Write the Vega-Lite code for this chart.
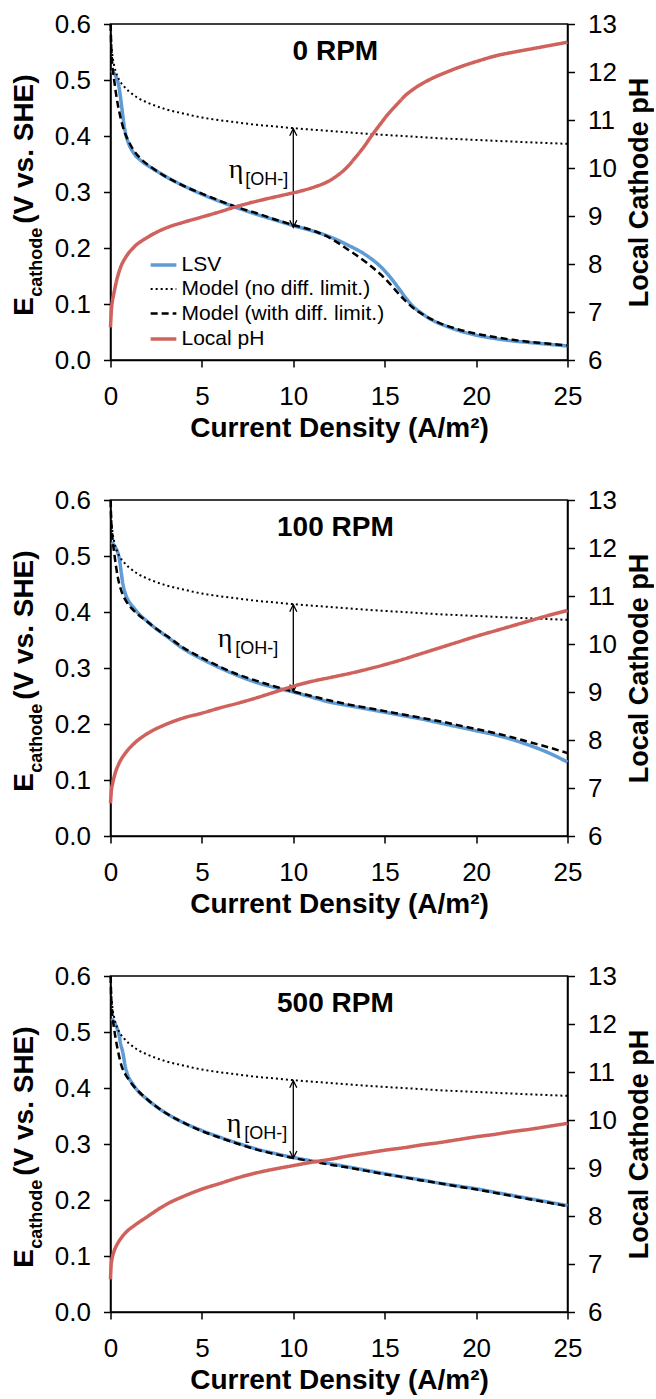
{
  "$schema": "https://vega.github.io/schema/vega-lite/v6.json",
  "background": "white",
  "padding": {"left": 9.5, "top": 10, "right": 0, "bottom": 0},
  "datasets": {
    "arrows": [
      {"rpm": "0 RPM", "current": 10, "top": 0.413, "bottom": 0.237},
      {"rpm": "100 RPM", "current": 10, "top": 0.413, "bottom": 0.258},
      {"rpm": "500 RPM", "current": 10, "top": 0.413, "bottom": 0.275}
    ],
    "rpm0": [
      {"series":"LSV","current":0.05,"value":0.517},{"series":"LSV","current":0.2,"value":0.512},{"series":"LSV","current":0.35,"value":0.502},{"series":"LSV","current":0.45,"value":0.49},{"series":"LSV","current":0.55,"value":0.468},{"series":"LSV","current":0.64,"value":0.445},{"series":"LSV","current":0.73,"value":0.422},{"series":"LSV","current":0.82,"value":0.405},{"series":"LSV","current":1,"value":0.386},{"series":"LSV","current":1.28,"value":0.369},{"series":"LSV","current":1.7,"value":0.355},{"series":"LSV","current":2.2,"value":0.344},{"series":"LSV","current":3,"value":0.328},{"series":"LSV","current":4,"value":0.311},{"series":"LSV","current":5,"value":0.296},{"series":"LSV","current":6,"value":0.283},{"series":"LSV","current":7,"value":0.271},{"series":"LSV","current":8,"value":0.26},{"series":"LSV","current":9,"value":0.25},{"series":"LSV","current":10,"value":0.24},{"series":"LSV","current":11,"value":0.231},{"series":"LSV","current":12,"value":0.22},{"series":"LSV","current":13,"value":0.205},{"series":"LSV","current":13.9,"value":0.189},{"series":"LSV","current":14.8,"value":0.166},{"series":"LSV","current":15.3,"value":0.148},{"series":"LSV","current":15.7,"value":0.131},{"series":"LSV","current":16.2,"value":0.109},{"series":"LSV","current":16.6,"value":0.094},{"series":"LSV","current":17,"value":0.084},{"series":"LSV","current":17.5,"value":0.073},{"series":"LSV","current":18.4,"value":0.06},{"series":"LSV","current":19.3,"value":0.05},{"series":"LSV","current":20.2,"value":0.043},{"series":"LSV","current":21.1,"value":0.038},{"series":"LSV","current":22,"value":0.034},{"series":"LSV","current":23,"value":0.031},{"series":"LSV","current":24,"value":0.028},{"series":"LSV","current":25,"value":0.025},
      {"series":"Model (no diff. limit.)","current":0.015,"value":0.6},{"series":"Model (no diff. limit.)","current":0.03,"value":0.578},{"series":"Model (no diff. limit.)","current":0.06,"value":0.558},{"series":"Model (no diff. limit.)","current":0.1,"value":0.545},{"series":"Model (no diff. limit.)","current":0.2,"value":0.526},{"series":"Model (no diff. limit.)","current":0.35,"value":0.509},{"series":"Model (no diff. limit.)","current":0.5,"value":0.499},{"series":"Model (no diff. limit.)","current":0.75,"value":0.488},{"series":"Model (no diff. limit.)","current":1,"value":0.48},{"series":"Model (no diff. limit.)","current":1.5,"value":0.468},{"series":"Model (no diff. limit.)","current":2,"value":0.46},{"series":"Model (no diff. limit.)","current":3,"value":0.448},{"series":"Model (no diff. limit.)","current":4,"value":0.44},{"series":"Model (no diff. limit.)","current":5,"value":0.433},{"series":"Model (no diff. limit.)","current":6,"value":0.428},{"series":"Model (no diff. limit.)","current":7,"value":0.424},{"series":"Model (no diff. limit.)","current":8,"value":0.42},{"series":"Model (no diff. limit.)","current":9,"value":0.417},{"series":"Model (no diff. limit.)","current":10,"value":0.414},{"series":"Model (no diff. limit.)","current":12,"value":0.409},{"series":"Model (no diff. limit.)","current":14,"value":0.404},{"series":"Model (no diff. limit.)","current":16,"value":0.4},{"series":"Model (no diff. limit.)","current":18,"value":0.396},{"series":"Model (no diff. limit.)","current":20,"value":0.393},{"series":"Model (no diff. limit.)","current":22,"value":0.39},{"series":"Model (no diff. limit.)","current":25,"value":0.386},
      {"series":"Model (with diff. limit.)","current":0.01,"value":0.6},{"series":"Model (with diff. limit.)","current":0.03,"value":0.57},{"series":"Model (with diff. limit.)","current":0.07,"value":0.54},{"series":"Model (with diff. limit.)","current":0.12,"value":0.52},{"series":"Model (with diff. limit.)","current":0.2,"value":0.5},{"series":"Model (with diff. limit.)","current":0.3,"value":0.476},{"series":"Model (with diff. limit.)","current":0.4,"value":0.456},{"series":"Model (with diff. limit.)","current":0.5,"value":0.44},{"series":"Model (with diff. limit.)","current":0.6,"value":0.426},{"series":"Model (with diff. limit.)","current":0.75,"value":0.409},{"series":"Model (with diff. limit.)","current":1,"value":0.39},{"series":"Model (with diff. limit.)","current":1.3,"value":0.373},{"series":"Model (with diff. limit.)","current":1.7,"value":0.358},{"series":"Model (with diff. limit.)","current":2.2,"value":0.345},{"series":"Model (with diff. limit.)","current":3,"value":0.328},{"series":"Model (with diff. limit.)","current":4,"value":0.311},{"series":"Model (with diff. limit.)","current":5,"value":0.297},{"series":"Model (with diff. limit.)","current":6,"value":0.284},{"series":"Model (with diff. limit.)","current":7,"value":0.272},{"series":"Model (with diff. limit.)","current":8,"value":0.262},{"series":"Model (with diff. limit.)","current":9,"value":0.251},{"series":"Model (with diff. limit.)","current":10,"value":0.241},{"series":"Model (with diff. limit.)","current":11,"value":0.232},{"series":"Model (with diff. limit.)","current":12,"value":0.218},{"series":"Model (with diff. limit.)","current":13,"value":0.197},{"series":"Model (with diff. limit.)","current":14,"value":0.174},{"series":"Model (with diff. limit.)","current":15,"value":0.146},{"series":"Model (with diff. limit.)","current":16,"value":0.11},{"series":"Model (with diff. limit.)","current":16.6,"value":0.092},{"series":"Model (with diff. limit.)","current":17,"value":0.083},{"series":"Model (with diff. limit.)","current":18,"value":0.066},{"series":"Model (with diff. limit.)","current":19,"value":0.055},{"series":"Model (with diff. limit.)","current":20,"value":0.047},{"series":"Model (with diff. limit.)","current":21,"value":0.041},{"series":"Model (with diff. limit.)","current":22,"value":0.036},{"series":"Model (with diff. limit.)","current":23,"value":0.032},{"series":"Model (with diff. limit.)","current":24,"value":0.029},{"series":"Model (with diff. limit.)","current":25,"value":0.026},
      {"series":"Local pH","current":0,"value":6.68},{"series":"Local pH","current":0.05,"value":7.05},{"series":"Local pH","current":0.1,"value":7.22},{"series":"Local pH","current":0.18,"value":7.38},{"series":"Local pH","current":0.3,"value":7.6},{"series":"Local pH","current":0.55,"value":7.93},{"series":"Local pH","current":0.8,"value":8.12},{"series":"Local pH","current":1.28,"value":8.35},{"series":"Local pH","current":2,"value":8.55},{"series":"Local pH","current":3.1,"value":8.76},{"series":"Local pH","current":4,"value":8.87},{"series":"Local pH","current":4.92,"value":8.97},{"series":"Local pH","current":6,"value":9.09},{"series":"Local pH","current":6.75,"value":9.18},{"series":"Local pH","current":7.6,"value":9.27},{"series":"Local pH","current":8.57,"value":9.36},{"series":"Local pH","current":9.5,"value":9.44},{"series":"Local pH","current":10.4,"value":9.52},{"series":"Local pH","current":11.2,"value":9.61},{"series":"Local pH","current":11.8,"value":9.7},{"series":"Local pH","current":12.4,"value":9.84},{"series":"Local pH","current":12.95,"value":10.02},{"series":"Local pH","current":13.4,"value":10.22},{"series":"Local pH","current":13.86,"value":10.44},{"series":"Local pH","current":14.3,"value":10.68},{"series":"Local pH","current":14.77,"value":10.92},{"series":"Local pH","current":15.2,"value":11.13},{"series":"Local pH","current":15.68,"value":11.33},{"series":"Local pH","current":16.1,"value":11.5},{"series":"Local pH","current":16.6,"value":11.65},{"series":"Local pH","current":17.5,"value":11.85},{"series":"Local pH","current":18.4,"value":12.0},{"series":"Local pH","current":19.3,"value":12.13},{"series":"Local pH","current":20.2,"value":12.24},{"series":"Local pH","current":21.1,"value":12.34},{"series":"Local pH","current":22,"value":12.41},{"series":"Local pH","current":23,"value":12.48},{"series":"Local pH","current":24,"value":12.55},{"series":"Local pH","current":25,"value":12.62}
    ],
    "rpm100": [
      {"series":"LSV","current":0.07,"value":0.525},{"series":"LSV","current":0.25,"value":0.516},{"series":"LSV","current":0.4,"value":0.506},{"series":"LSV","current":0.5,"value":0.492},{"series":"LSV","current":0.57,"value":0.475},{"series":"LSV","current":0.65,"value":0.456},{"series":"LSV","current":0.8,"value":0.434},{"series":"LSV","current":1,"value":0.419},{"series":"LSV","current":1.26,"value":0.408},{"series":"LSV","current":1.6,"value":0.395},{"series":"LSV","current":1.95,"value":0.385},{"series":"LSV","current":2.5,"value":0.37},{"series":"LSV","current":3.09,"value":0.356},{"series":"LSV","current":4,"value":0.334},{"series":"LSV","current":5,"value":0.316},{"series":"LSV","current":6,"value":0.3},{"series":"LSV","current":7,"value":0.286},{"series":"LSV","current":8,"value":0.274},{"series":"LSV","current":9,"value":0.265},{"series":"LSV","current":10,"value":0.257},{"series":"LSV","current":11,"value":0.248},{"series":"LSV","current":12,"value":0.239},{"series":"LSV","current":13,"value":0.233},{"series":"LSV","current":14,"value":0.227},{"series":"LSV","current":15,"value":0.221},{"series":"LSV","current":16,"value":0.215},{"series":"LSV","current":17,"value":0.209},{"series":"LSV","current":18,"value":0.202},{"series":"LSV","current":19,"value":0.195},{"series":"LSV","current":20,"value":0.188},{"series":"LSV","current":21,"value":0.181},{"series":"LSV","current":22,"value":0.172},{"series":"LSV","current":23,"value":0.161},{"series":"LSV","current":24,"value":0.148},{"series":"LSV","current":25,"value":0.132},
      {"series":"Model (no diff. limit.)","current":0.015,"value":0.6},{"series":"Model (no diff. limit.)","current":0.03,"value":0.578},{"series":"Model (no diff. limit.)","current":0.06,"value":0.558},{"series":"Model (no diff. limit.)","current":0.1,"value":0.545},{"series":"Model (no diff. limit.)","current":0.2,"value":0.526},{"series":"Model (no diff. limit.)","current":0.35,"value":0.509},{"series":"Model (no diff. limit.)","current":0.5,"value":0.499},{"series":"Model (no diff. limit.)","current":0.75,"value":0.488},{"series":"Model (no diff. limit.)","current":1,"value":0.48},{"series":"Model (no diff. limit.)","current":1.5,"value":0.468},{"series":"Model (no diff. limit.)","current":2,"value":0.46},{"series":"Model (no diff. limit.)","current":3,"value":0.448},{"series":"Model (no diff. limit.)","current":4,"value":0.44},{"series":"Model (no diff. limit.)","current":5,"value":0.433},{"series":"Model (no diff. limit.)","current":6,"value":0.428},{"series":"Model (no diff. limit.)","current":7,"value":0.424},{"series":"Model (no diff. limit.)","current":8,"value":0.42},{"series":"Model (no diff. limit.)","current":9,"value":0.417},{"series":"Model (no diff. limit.)","current":10,"value":0.414},{"series":"Model (no diff. limit.)","current":12,"value":0.409},{"series":"Model (no diff. limit.)","current":14,"value":0.404},{"series":"Model (no diff. limit.)","current":16,"value":0.4},{"series":"Model (no diff. limit.)","current":18,"value":0.396},{"series":"Model (no diff. limit.)","current":20,"value":0.393},{"series":"Model (no diff. limit.)","current":22,"value":0.39},{"series":"Model (no diff. limit.)","current":25,"value":0.386},
      {"series":"Model (with diff. limit.)","current":0.01,"value":0.6},{"series":"Model (with diff. limit.)","current":0.03,"value":0.572},{"series":"Model (with diff. limit.)","current":0.07,"value":0.547},{"series":"Model (with diff. limit.)","current":0.12,"value":0.527},{"series":"Model (with diff. limit.)","current":0.2,"value":0.506},{"series":"Model (with diff. limit.)","current":0.3,"value":0.482},{"series":"Model (with diff. limit.)","current":0.4,"value":0.462},{"series":"Model (with diff. limit.)","current":0.55,"value":0.442},{"series":"Model (with diff. limit.)","current":0.7,"value":0.429},{"series":"Model (with diff. limit.)","current":0.9,"value":0.417},{"series":"Model (with diff. limit.)","current":1.2,"value":0.405},{"series":"Model (with diff. limit.)","current":1.6,"value":0.393},{"series":"Model (with diff. limit.)","current":2,"value":0.383},{"series":"Model (with diff. limit.)","current":2.5,"value":0.37},{"series":"Model (with diff. limit.)","current":3.09,"value":0.357},{"series":"Model (with diff. limit.)","current":4,"value":0.336},{"series":"Model (with diff. limit.)","current":5,"value":0.318},{"series":"Model (with diff. limit.)","current":6,"value":0.302},{"series":"Model (with diff. limit.)","current":7,"value":0.288},{"series":"Model (with diff. limit.)","current":8,"value":0.277},{"series":"Model (with diff. limit.)","current":9,"value":0.267},{"series":"Model (with diff. limit.)","current":10,"value":0.258},{"series":"Model (with diff. limit.)","current":11,"value":0.25},{"series":"Model (with diff. limit.)","current":12,"value":0.242},{"series":"Model (with diff. limit.)","current":13,"value":0.235},{"series":"Model (with diff. limit.)","current":14,"value":0.229},{"series":"Model (with diff. limit.)","current":15,"value":0.223},{"series":"Model (with diff. limit.)","current":16,"value":0.217},{"series":"Model (with diff. limit.)","current":17,"value":0.211},{"series":"Model (with diff. limit.)","current":18,"value":0.205},{"series":"Model (with diff. limit.)","current":19,"value":0.198},{"series":"Model (with diff. limit.)","current":20,"value":0.191},{"series":"Model (with diff. limit.)","current":21,"value":0.184},{"series":"Model (with diff. limit.)","current":22,"value":0.176},{"series":"Model (with diff. limit.)","current":23,"value":0.167},{"series":"Model (with diff. limit.)","current":24,"value":0.158},{"series":"Model (with diff. limit.)","current":25,"value":0.148},
      {"series":"Local pH","current":0,"value":6.68},{"series":"Local pH","current":0.05,"value":6.95},{"series":"Local pH","current":0.12,"value":7.1},{"series":"Local pH","current":0.25,"value":7.3},{"series":"Local pH","current":0.45,"value":7.5},{"series":"Local pH","current":0.8,"value":7.72},{"series":"Local pH","current":1.3,"value":7.93},{"series":"Local pH","current":2,"value":8.13},{"series":"Local pH","current":3,"value":8.32},{"series":"Local pH","current":4,"value":8.46},{"series":"Local pH","current":5,"value":8.56},{"series":"Local pH","current":6,"value":8.67},{"series":"Local pH","current":7,"value":8.77},{"series":"Local pH","current":8,"value":8.88},{"series":"Local pH","current":9,"value":9.0},{"series":"Local pH","current":10,"value":9.12},{"series":"Local pH","current":11,"value":9.22},{"series":"Local pH","current":12,"value":9.3},{"series":"Local pH","current":13,"value":9.38},{"series":"Local pH","current":14,"value":9.47},{"series":"Local pH","current":15,"value":9.57},{"series":"Local pH","current":16,"value":9.68},{"series":"Local pH","current":17,"value":9.8},{"series":"Local pH","current":18,"value":9.92},{"series":"Local pH","current":19,"value":10.04},{"series":"Local pH","current":20,"value":10.16},{"series":"Local pH","current":21,"value":10.27},{"series":"Local pH","current":22,"value":10.38},{"series":"Local pH","current":23,"value":10.49},{"series":"Local pH","current":24,"value":10.6},{"series":"Local pH","current":25,"value":10.7}
    ],
    "rpm500": [
      {"series":"LSV","current":0.07,"value":0.524},{"series":"LSV","current":0.25,"value":0.515},{"series":"LSV","current":0.4,"value":0.503},{"series":"LSV","current":0.46,"value":0.496},{"series":"LSV","current":0.55,"value":0.48},{"series":"LSV","current":0.69,"value":0.461},{"series":"LSV","current":0.8,"value":0.44},{"series":"LSV","current":0.92,"value":0.425},{"series":"LSV","current":1.2,"value":0.408},{"series":"LSV","current":1.49,"value":0.395},{"series":"LSV","current":2,"value":0.38},{"series":"LSV","current":2.5,"value":0.367},{"series":"LSV","current":3.09,"value":0.354},{"series":"LSV","current":4,"value":0.338},{"series":"LSV","current":5,"value":0.324},{"series":"LSV","current":6,"value":0.312},{"series":"LSV","current":7,"value":0.301},{"series":"LSV","current":8,"value":0.291},{"series":"LSV","current":9,"value":0.283},{"series":"LSV","current":10,"value":0.276},{"series":"LSV","current":11,"value":0.27},{"series":"LSV","current":12,"value":0.265},{"series":"LSV","current":13,"value":0.259},{"series":"LSV","current":14,"value":0.253},{"series":"LSV","current":15,"value":0.247},{"series":"LSV","current":16,"value":0.241},{"series":"LSV","current":17,"value":0.236},{"series":"LSV","current":18,"value":0.23},{"series":"LSV","current":19,"value":0.225},{"series":"LSV","current":20,"value":0.22},{"series":"LSV","current":21,"value":0.214},{"series":"LSV","current":22,"value":0.208},{"series":"LSV","current":23,"value":0.202},{"series":"LSV","current":24,"value":0.196},{"series":"LSV","current":25,"value":0.19},
      {"series":"Model (no diff. limit.)","current":0.015,"value":0.6},{"series":"Model (no diff. limit.)","current":0.03,"value":0.578},{"series":"Model (no diff. limit.)","current":0.06,"value":0.558},{"series":"Model (no diff. limit.)","current":0.1,"value":0.545},{"series":"Model (no diff. limit.)","current":0.2,"value":0.526},{"series":"Model (no diff. limit.)","current":0.35,"value":0.509},{"series":"Model (no diff. limit.)","current":0.5,"value":0.499},{"series":"Model (no diff. limit.)","current":0.75,"value":0.488},{"series":"Model (no diff. limit.)","current":1,"value":0.48},{"series":"Model (no diff. limit.)","current":1.5,"value":0.468},{"series":"Model (no diff. limit.)","current":2,"value":0.46},{"series":"Model (no diff. limit.)","current":3,"value":0.448},{"series":"Model (no diff. limit.)","current":4,"value":0.44},{"series":"Model (no diff. limit.)","current":5,"value":0.433},{"series":"Model (no diff. limit.)","current":6,"value":0.428},{"series":"Model (no diff. limit.)","current":7,"value":0.424},{"series":"Model (no diff. limit.)","current":8,"value":0.42},{"series":"Model (no diff. limit.)","current":9,"value":0.417},{"series":"Model (no diff. limit.)","current":10,"value":0.414},{"series":"Model (no diff. limit.)","current":12,"value":0.409},{"series":"Model (no diff. limit.)","current":14,"value":0.404},{"series":"Model (no diff. limit.)","current":16,"value":0.4},{"series":"Model (no diff. limit.)","current":18,"value":0.396},{"series":"Model (no diff. limit.)","current":20,"value":0.393},{"series":"Model (no diff. limit.)","current":22,"value":0.39},{"series":"Model (no diff. limit.)","current":25,"value":0.386},
      {"series":"Model (with diff. limit.)","current":0.01,"value":0.6},{"series":"Model (with diff. limit.)","current":0.03,"value":0.57},{"series":"Model (with diff. limit.)","current":0.07,"value":0.545},{"series":"Model (with diff. limit.)","current":0.12,"value":0.525},{"series":"Model (with diff. limit.)","current":0.2,"value":0.505},{"series":"Model (with diff. limit.)","current":0.3,"value":0.485},{"series":"Model (with diff. limit.)","current":0.45,"value":0.46},{"series":"Model (with diff. limit.)","current":0.6,"value":0.44},{"series":"Model (with diff. limit.)","current":0.8,"value":0.425},{"series":"Model (with diff. limit.)","current":1,"value":0.415},{"series":"Model (with diff. limit.)","current":1.3,"value":0.402},{"series":"Model (with diff. limit.)","current":1.6,"value":0.392},{"series":"Model (with diff. limit.)","current":2,"value":0.38},{"series":"Model (with diff. limit.)","current":2.5,"value":0.367},{"series":"Model (with diff. limit.)","current":3.09,"value":0.354},{"series":"Model (with diff. limit.)","current":4,"value":0.338},{"series":"Model (with diff. limit.)","current":5,"value":0.323},{"series":"Model (with diff. limit.)","current":6,"value":0.311},{"series":"Model (with diff. limit.)","current":7,"value":0.3},{"series":"Model (with diff. limit.)","current":8,"value":0.29},{"series":"Model (with diff. limit.)","current":9,"value":0.282},{"series":"Model (with diff. limit.)","current":10,"value":0.275},{"series":"Model (with diff. limit.)","current":11,"value":0.269},{"series":"Model (with diff. limit.)","current":12,"value":0.263},{"series":"Model (with diff. limit.)","current":13,"value":0.258},{"series":"Model (with diff. limit.)","current":14,"value":0.252},{"series":"Model (with diff. limit.)","current":15,"value":0.246},{"series":"Model (with diff. limit.)","current":16,"value":0.241},{"series":"Model (with diff. limit.)","current":17,"value":0.235},{"series":"Model (with diff. limit.)","current":18,"value":0.23},{"series":"Model (with diff. limit.)","current":19,"value":0.224},{"series":"Model (with diff. limit.)","current":20,"value":0.219},{"series":"Model (with diff. limit.)","current":21,"value":0.213},{"series":"Model (with diff. limit.)","current":22,"value":0.207},{"series":"Model (with diff. limit.)","current":23,"value":0.201},{"series":"Model (with diff. limit.)","current":24,"value":0.195},{"series":"Model (with diff. limit.)","current":25,"value":0.189},
      {"series":"Local pH","current":0,"value":6.68},{"series":"Local pH","current":0.03,"value":6.95},{"series":"Local pH","current":0.08,"value":7.1},{"series":"Local pH","current":0.18,"value":7.25},{"series":"Local pH","current":0.35,"value":7.4},{"series":"Local pH","current":0.6,"value":7.55},{"series":"Local pH","current":0.9,"value":7.68},{"series":"Local pH","current":1.3,"value":7.8},{"series":"Local pH","current":1.95,"value":7.97},{"series":"Local pH","current":3.09,"value":8.25},{"series":"Local pH","current":4,"value":8.41},{"series":"Local pH","current":5,"value":8.56},{"series":"Local pH","current":6,"value":8.68},{"series":"Local pH","current":7,"value":8.8},{"series":"Local pH","current":8,"value":8.9},{"series":"Local pH","current":9,"value":8.98},{"series":"Local pH","current":10,"value":9.05},{"series":"Local pH","current":11,"value":9.12},{"series":"Local pH","current":12,"value":9.18},{"series":"Local pH","current":13,"value":9.25},{"series":"Local pH","current":14,"value":9.31},{"series":"Local pH","current":15,"value":9.37},{"series":"Local pH","current":16,"value":9.42},{"series":"Local pH","current":17,"value":9.48},{"series":"Local pH","current":18,"value":9.53},{"series":"Local pH","current":19,"value":9.59},{"series":"Local pH","current":20,"value":9.65},{"series":"Local pH","current":21,"value":9.7},{"series":"Local pH","current":22,"value":9.76},{"series":"Local pH","current":23,"value":9.81},{"series":"Local pH","current":24,"value":9.87},{"series":"Local pH","current":25,"value":9.93}
    ]
  },
  "vconcat": [
    {
      "width": 457, "height": 336,
      "data": {"name": "rpm0"},
      "resolve": {"scale": {"y": "independent"}},
      "layer": [
        {"layer": [
          {"transform": [{"filter": "datum.series != 'Local pH'"}],
           "mark": {"type": "line", "interpolate": "monotone"},
           "encoding": {
             "x": {"field": "current", "type": "quantitative", "scale": {"domain": [0, 25]}, "axis": {"values": [0, 5, 10, 15, 20, 25], "title": "Current Density (A/m²)"}},
             "y": {"field": "value", "type": "quantitative", "scale": {"domain": [0, 0.6]}, "axis": {"orient": "left", "values": [0, 0.1, 0.2, 0.3, 0.4, 0.5, 0.6], "format": ".1f", "title": null}},
             "color": {"field": "series", "type": "nominal", "scale": {"domain": ["LSV", "Model (no diff. limit.)", "Model (with diff. limit.)", "Local pH"], "range": ["#5f9bd5", "#000000", "#000000", "#d0625d"]}, "legend": {"title": null}},
             "strokeDash": {"field": "series", "type": "nominal", "scale": {"domain": ["LSV", "Model (no diff. limit.)", "Model (with diff. limit.)", "Local pH"], "range": [[1, 0], [2, 3], [7, 4], [1, 0]]}, "legend": {"title": null}},
             "strokeWidth": {"field": "series", "type": "nominal", "scale": {"type": "ordinal", "domain": ["LSV", "Model (no diff. limit.)", "Model (with diff. limit.)", "Local pH"], "range": [3.5, 2, 2.5, 3.5]}, "legend": {"title": null}}
           }},
          {"data": {"name": "arrows"},
           "transform": [{"filter": {"field": "rpm", "equal": "0 RPM"}}],
           "layer": [
             {"mark": {"type": "rule", "color": "black", "strokeWidth": 1.3},
              "encoding": {"x": {"field": "current", "type": "quantitative", "scale": {"domain": [0, 25]}}, "y": {"field": "top", "type": "quantitative", "scale": {"domain": [0, 0.6]}}, "y2": {"field": "bottom"}}},
             {"mark": {"type": "point", "shape": "M-0.5,1L0,0L0.5,1", "filled": false, "color": "black", "strokeWidth": 1.3, "size": 200, "opacity": 1},
              "encoding": {"x": {"field": "current", "type": "quantitative", "scale": {"domain": [0, 25]}}, "y": {"field": "top", "type": "quantitative", "scale": {"domain": [0, 0.6]}}}},
             {"mark": {"type": "point", "shape": "M-0.5,-1L0,0L0.5,-1", "filled": false, "color": "black", "strokeWidth": 1.3, "size": 200, "opacity": 1},
              "encoding": {"x": {"field": "current", "type": "quantitative", "scale": {"domain": [0, 25]}}, "y": {"field": "bottom", "type": "quantitative", "scale": {"domain": [0, 0.6]}}}},
             {"mark": {"type": "text", "text": "η", "font": "Liberation Serif", "fontSize": 28, "color": "black", "align": "right", "baseline": "alphabetic", "dx": -50},
              "encoding": {"x": {"field": "current", "type": "quantitative", "scale": {"domain": [0, 25]}}, "y": {"datum": 0.3255, "type": "quantitative", "scale": {"domain": [0, 0.6]}}}},
             {"mark": {"type": "text", "text": "[OH-]", "fontSize": 18, "color": "black", "align": "right", "baseline": "alphabetic", "dx": -5},
              "encoding": {"x": {"field": "current", "type": "quantitative", "scale": {"domain": [0, 25]}}, "y": {"datum": 0.313, "type": "quantitative", "scale": {"domain": [0, 0.6]}}}},
             {"mark": {"type": "text", "fontSize": 28, "fontWeight": "bold", "color": "black", "align": "center", "baseline": "middle"},
              "encoding": {"text": {"field": "rpm"}, "x": {"datum": 12.3, "type": "quantitative", "scale": {"domain": [0, 25]}}, "y": {"datum": 0.55, "type": "quantitative", "scale": {"domain": [0, 0.6]}}}},
             {"mark": {"type": "text", "text": "E", "fontSize": 28, "fontWeight": "bold", "color": "black", "angle": 270, "align": "left", "baseline": "alphabetic"},
              "encoding": {"x": {"datum": -4.23, "type": "quantitative", "scale": {"domain": [0, 25]}}, "y": {"datum": 0.079, "type": "quantitative", "scale": {"domain": [0, 0.6]}}}},
             {"mark": {"type": "text", "text": "cathode", "fontSize": 18, "fontWeight": "bold", "color": "black", "angle": 270, "align": "left", "baseline": "alphabetic", "dx": 19, "dy": 8.4},
              "encoding": {"x": {"datum": -4.23, "type": "quantitative", "scale": {"domain": [0, 25]}}, "y": {"datum": 0.079, "type": "quantitative", "scale": {"domain": [0, 0.6]}}}},
             {"mark": {"type": "text", "text": "(V vs. SHE)", "fontSize": 28, "fontWeight": "bold", "color": "black", "angle": 270, "align": "left", "baseline": "alphabetic", "dx": 92},
              "encoding": {"x": {"datum": -4.23, "type": "quantitative", "scale": {"domain": [0, 25]}}, "y": {"datum": 0.079, "type": "quantitative", "scale": {"domain": [0, 0.6]}}}}
           ]}
        ]},
        {"transform": [{"filter": {"field": "series", "equal": "Local pH"}}],
         "mark": {"type": "line", "interpolate": "monotone"},
         "encoding": {
           "x": {"field": "current", "type": "quantitative", "scale": {"domain": [0, 25]}},
           "y": {"field": "value", "type": "quantitative", "scale": {"domain": [6, 13]}, "axis": {"orient": "right", "values": [6, 7, 8, 9, 10, 11, 12, 13], "title": "Local Cathode pH", "titleAngle": 270, "titleBaseline": "top", "titlePadding": 10}},
           "color": {"field": "series", "type": "nominal", "scale": {"domain": ["LSV", "Model (no diff. limit.)", "Model (with diff. limit.)", "Local pH"], "range": ["#5f9bd5", "#000000", "#000000", "#d0625d"]}, "legend": {"title": null}},
           "strokeDash": {"field": "series", "type": "nominal", "scale": {"domain": ["LSV", "Model (no diff. limit.)", "Model (with diff. limit.)", "Local pH"], "range": [[1, 0], [2, 3], [7, 4], [1, 0]]}, "legend": {"title": null}},
           "strokeWidth": {"field": "series", "type": "nominal", "scale": {"type": "ordinal", "domain": ["LSV", "Model (no diff. limit.)", "Model (with diff. limit.)", "Local pH"], "range": [3.5, 2, 2.5, 3.5]}, "legend": {"title": null}}
         }}
      ]
    },
    {
      "width": 457, "height": 336,
      "data": {"name": "rpm100"},
      "resolve": {"scale": {"y": "independent"}},
      "layer": [
        {"layer": [
          {"transform": [{"filter": "datum.series != 'Local pH'"}],
           "mark": {"type": "line", "interpolate": "monotone"},
           "encoding": {
             "x": {"field": "current", "type": "quantitative", "scale": {"domain": [0, 25]}, "axis": {"values": [0, 5, 10, 15, 20, 25], "title": "Current Density (A/m²)"}},
             "y": {"field": "value", "type": "quantitative", "scale": {"domain": [0, 0.6]}, "axis": {"orient": "left", "values": [0, 0.1, 0.2, 0.3, 0.4, 0.5, 0.6], "format": ".1f", "title": null}},
             "color": {"field": "series", "type": "nominal", "scale": {"domain": ["LSV", "Model (no diff. limit.)", "Model (with diff. limit.)", "Local pH"], "range": ["#5f9bd5", "#000000", "#000000", "#d0625d"]}, "legend": null},
             "strokeDash": {"field": "series", "type": "nominal", "scale": {"domain": ["LSV", "Model (no diff. limit.)", "Model (with diff. limit.)", "Local pH"], "range": [[1, 0], [2, 3], [7, 4], [1, 0]]}, "legend": null},
             "strokeWidth": {"field": "series", "type": "nominal", "scale": {"type": "ordinal", "domain": ["LSV", "Model (no diff. limit.)", "Model (with diff. limit.)", "Local pH"], "range": [3.5, 2, 2.5, 3.5]}, "legend": null}
           }},
          {"data": {"name": "arrows"},
           "transform": [{"filter": {"field": "rpm", "equal": "100 RPM"}}],
           "layer": [
             {"mark": {"type": "rule", "color": "black", "strokeWidth": 1.3},
              "encoding": {"x": {"field": "current", "type": "quantitative", "scale": {"domain": [0, 25]}}, "y": {"field": "top", "type": "quantitative", "scale": {"domain": [0, 0.6]}}, "y2": {"field": "bottom"}}},
             {"mark": {"type": "point", "shape": "M-0.5,1L0,0L0.5,1", "filled": false, "color": "black", "strokeWidth": 1.3, "size": 200, "opacity": 1},
              "encoding": {"x": {"field": "current", "type": "quantitative", "scale": {"domain": [0, 25]}}, "y": {"field": "top", "type": "quantitative", "scale": {"domain": [0, 0.6]}}}},
             {"mark": {"type": "point", "shape": "M-0.5,-1L0,0L0.5,-1", "filled": false, "color": "black", "strokeWidth": 1.3, "size": 200, "opacity": 1},
              "encoding": {"x": {"field": "current", "type": "quantitative", "scale": {"domain": [0, 25]}}, "y": {"field": "bottom", "type": "quantitative", "scale": {"domain": [0, 0.6]}}}},
             {"mark": {"type": "text", "text": "η", "font": "Liberation Serif", "fontSize": 28, "color": "black", "align": "right", "baseline": "alphabetic", "dx": -61},
              "encoding": {"x": {"field": "current", "type": "quantitative", "scale": {"domain": [0, 25]}}, "y": {"datum": 0.3375, "type": "quantitative", "scale": {"domain": [0, 0.6]}}}},
             {"mark": {"type": "text", "text": "[OH-]", "fontSize": 18, "color": "black", "align": "right", "baseline": "alphabetic", "dx": -15},
              "encoding": {"x": {"field": "current", "type": "quantitative", "scale": {"domain": [0, 25]}}, "y": {"datum": 0.325, "type": "quantitative", "scale": {"domain": [0, 0.6]}}}},
             {"mark": {"type": "text", "fontSize": 28, "fontWeight": "bold", "color": "black", "align": "center", "baseline": "middle"},
              "encoding": {"text": {"field": "rpm"}, "x": {"datum": 12.3, "type": "quantitative", "scale": {"domain": [0, 25]}}, "y": {"datum": 0.55, "type": "quantitative", "scale": {"domain": [0, 0.6]}}}},
             {"mark": {"type": "text", "text": "E", "fontSize": 28, "fontWeight": "bold", "color": "black", "angle": 270, "align": "left", "baseline": "alphabetic"},
              "encoding": {"x": {"datum": -4.23, "type": "quantitative", "scale": {"domain": [0, 25]}}, "y": {"datum": 0.079, "type": "quantitative", "scale": {"domain": [0, 0.6]}}}},
             {"mark": {"type": "text", "text": "cathode", "fontSize": 18, "fontWeight": "bold", "color": "black", "angle": 270, "align": "left", "baseline": "alphabetic", "dx": 19, "dy": 8.4},
              "encoding": {"x": {"datum": -4.23, "type": "quantitative", "scale": {"domain": [0, 25]}}, "y": {"datum": 0.079, "type": "quantitative", "scale": {"domain": [0, 0.6]}}}},
             {"mark": {"type": "text", "text": "(V vs. SHE)", "fontSize": 28, "fontWeight": "bold", "color": "black", "angle": 270, "align": "left", "baseline": "alphabetic", "dx": 92},
              "encoding": {"x": {"datum": -4.23, "type": "quantitative", "scale": {"domain": [0, 25]}}, "y": {"datum": 0.079, "type": "quantitative", "scale": {"domain": [0, 0.6]}}}}
           ]}
        ]},
        {"transform": [{"filter": {"field": "series", "equal": "Local pH"}}],
         "mark": {"type": "line", "interpolate": "monotone"},
         "encoding": {
           "x": {"field": "current", "type": "quantitative", "scale": {"domain": [0, 25]}},
           "y": {"field": "value", "type": "quantitative", "scale": {"domain": [6, 13]}, "axis": {"orient": "right", "values": [6, 7, 8, 9, 10, 11, 12, 13], "title": "Local Cathode pH", "titleAngle": 270, "titleBaseline": "top", "titlePadding": 10}},
           "color": {"field": "series", "type": "nominal", "scale": {"domain": ["LSV", "Model (no diff. limit.)", "Model (with diff. limit.)", "Local pH"], "range": ["#5f9bd5", "#000000", "#000000", "#d0625d"]}, "legend": null},
           "strokeDash": {"field": "series", "type": "nominal", "scale": {"domain": ["LSV", "Model (no diff. limit.)", "Model (with diff. limit.)", "Local pH"], "range": [[1, 0], [2, 3], [7, 4], [1, 0]]}, "legend": null},
           "strokeWidth": {"field": "series", "type": "nominal", "scale": {"type": "ordinal", "domain": ["LSV", "Model (no diff. limit.)", "Model (with diff. limit.)", "Local pH"], "range": [3.5, 2, 2.5, 3.5]}, "legend": null}
         }}
      ]
    },
    {
      "width": 457, "height": 336,
      "data": {"name": "rpm500"},
      "resolve": {"scale": {"y": "independent"}},
      "layer": [
        {"layer": [
          {"transform": [{"filter": "datum.series != 'Local pH'"}],
           "mark": {"type": "line", "interpolate": "monotone"},
           "encoding": {
             "x": {"field": "current", "type": "quantitative", "scale": {"domain": [0, 25]}, "axis": {"values": [0, 5, 10, 15, 20, 25], "title": "Current Density (A/m²)"}},
             "y": {"field": "value", "type": "quantitative", "scale": {"domain": [0, 0.6]}, "axis": {"orient": "left", "values": [0, 0.1, 0.2, 0.3, 0.4, 0.5, 0.6], "format": ".1f", "title": null}},
             "color": {"field": "series", "type": "nominal", "scale": {"domain": ["LSV", "Model (no diff. limit.)", "Model (with diff. limit.)", "Local pH"], "range": ["#5f9bd5", "#000000", "#000000", "#d0625d"]}, "legend": null},
             "strokeDash": {"field": "series", "type": "nominal", "scale": {"domain": ["LSV", "Model (no diff. limit.)", "Model (with diff. limit.)", "Local pH"], "range": [[1, 0], [2, 3], [7, 4], [1, 0]]}, "legend": null},
             "strokeWidth": {"field": "series", "type": "nominal", "scale": {"type": "ordinal", "domain": ["LSV", "Model (no diff. limit.)", "Model (with diff. limit.)", "Local pH"], "range": [3.5, 2, 2.5, 3.5]}, "legend": null}
           }},
          {"data": {"name": "arrows"},
           "transform": [{"filter": {"field": "rpm", "equal": "500 RPM"}}],
           "layer": [
             {"mark": {"type": "rule", "color": "black", "strokeWidth": 1.3},
              "encoding": {"x": {"field": "current", "type": "quantitative", "scale": {"domain": [0, 25]}}, "y": {"field": "top", "type": "quantitative", "scale": {"domain": [0, 0.6]}}, "y2": {"field": "bottom"}}},
             {"mark": {"type": "point", "shape": "M-0.5,1L0,0L0.5,1", "filled": false, "color": "black", "strokeWidth": 1.3, "size": 200, "opacity": 1},
              "encoding": {"x": {"field": "current", "type": "quantitative", "scale": {"domain": [0, 25]}}, "y": {"field": "top", "type": "quantitative", "scale": {"domain": [0, 0.6]}}}},
             {"mark": {"type": "point", "shape": "M-0.5,-1L0,0L0.5,-1", "filled": false, "color": "black", "strokeWidth": 1.3, "size": 200, "opacity": 1},
              "encoding": {"x": {"field": "current", "type": "quantitative", "scale": {"domain": [0, 25]}}, "y": {"field": "bottom", "type": "quantitative", "scale": {"domain": [0, 0.6]}}}},
             {"mark": {"type": "text", "text": "η", "font": "Liberation Serif", "fontSize": 28, "color": "black", "align": "right", "baseline": "alphabetic", "dx": -52},
              "encoding": {"x": {"field": "current", "type": "quantitative", "scale": {"domain": [0, 25]}}, "y": {"datum": 0.321, "type": "quantitative", "scale": {"domain": [0, 0.6]}}}},
             {"mark": {"type": "text", "text": "[OH-]", "fontSize": 18, "color": "black", "align": "right", "baseline": "alphabetic", "dx": -6},
              "encoding": {"x": {"field": "current", "type": "quantitative", "scale": {"domain": [0, 25]}}, "y": {"datum": 0.309, "type": "quantitative", "scale": {"domain": [0, 0.6]}}}},
             {"mark": {"type": "text", "fontSize": 28, "fontWeight": "bold", "color": "black", "align": "center", "baseline": "middle"},
              "encoding": {"text": {"field": "rpm"}, "x": {"datum": 12.3, "type": "quantitative", "scale": {"domain": [0, 25]}}, "y": {"datum": 0.55, "type": "quantitative", "scale": {"domain": [0, 0.6]}}}},
             {"mark": {"type": "text", "text": "E", "fontSize": 28, "fontWeight": "bold", "color": "black", "angle": 270, "align": "left", "baseline": "alphabetic"},
              "encoding": {"x": {"datum": -4.23, "type": "quantitative", "scale": {"domain": [0, 25]}}, "y": {"datum": 0.079, "type": "quantitative", "scale": {"domain": [0, 0.6]}}}},
             {"mark": {"type": "text", "text": "cathode", "fontSize": 18, "fontWeight": "bold", "color": "black", "angle": 270, "align": "left", "baseline": "alphabetic", "dx": 19, "dy": 8.4},
              "encoding": {"x": {"datum": -4.23, "type": "quantitative", "scale": {"domain": [0, 25]}}, "y": {"datum": 0.079, "type": "quantitative", "scale": {"domain": [0, 0.6]}}}},
             {"mark": {"type": "text", "text": "(V vs. SHE)", "fontSize": 28, "fontWeight": "bold", "color": "black", "angle": 270, "align": "left", "baseline": "alphabetic", "dx": 92},
              "encoding": {"x": {"datum": -4.23, "type": "quantitative", "scale": {"domain": [0, 25]}}, "y": {"datum": 0.079, "type": "quantitative", "scale": {"domain": [0, 0.6]}}}}
           ]}
        ]},
        {"transform": [{"filter": {"field": "series", "equal": "Local pH"}}],
         "mark": {"type": "line", "interpolate": "monotone"},
         "encoding": {
           "x": {"field": "current", "type": "quantitative", "scale": {"domain": [0, 25]}},
           "y": {"field": "value", "type": "quantitative", "scale": {"domain": [6, 13]}, "axis": {"orient": "right", "values": [6, 7, 8, 9, 10, 11, 12, 13], "title": "Local Cathode pH", "titleAngle": 270, "titleBaseline": "top", "titlePadding": 10}},
           "color": {"field": "series", "type": "nominal", "scale": {"domain": ["LSV", "Model (no diff. limit.)", "Model (with diff. limit.)", "Local pH"], "range": ["#5f9bd5", "#000000", "#000000", "#d0625d"]}, "legend": null},
           "strokeDash": {"field": "series", "type": "nominal", "scale": {"domain": ["LSV", "Model (no diff. limit.)", "Model (with diff. limit.)", "Local pH"], "range": [[1, 0], [2, 3], [7, 4], [1, 0]]}, "legend": null},
           "strokeWidth": {"field": "series", "type": "nominal", "scale": {"type": "ordinal", "domain": ["LSV", "Model (no diff. limit.)", "Model (with diff. limit.)", "Local pH"], "range": [3.5, 2, 2.5, 3.5]}, "legend": null}
         }}
      ]
    }
  ],
  "spacing": 140,
  "bounds": "flush",
  "resolve": {
    "scale": {"color": "independent", "strokeDash": "independent", "strokeWidth": "independent"},
    "legend": {"color": "independent", "strokeDash": "independent", "strokeWidth": "independent"}
  },
  "config": {
    "font": "Liberation Sans",
    "view": {"stroke": "black", "strokeWidth": 1.5},
    "axis": {"grid": false, "domainColor": "black", "domainWidth": 1.5, "tickColor": "black", "tickWidth": 1.5, "tickSize": 7, "labelFont": "Liberation Sans", "labelFontSize": 26, "labelColor": "black", "labelFlush": false, "labelPadding": 13, "titleFont": "Liberation Sans", "titleFontSize": 27, "titleFontWeight": "bold", "titleColor": "black", "titlePadding": 8},
    "axisX": {"labelPadding": 16, "titleFontSize": 28, "titlePadding": 5},
    "legend": {"orient": "none", "legendX": 38, "legendY": 226, "labelFont": "Liberation Sans", "labelFontSize": 21, "labelColor": "black", "labelLimit": 400, "symbolType": "stroke", "symbolSize": 660, "labelOffset": 3, "rowPadding": 0, "padding": 0}
  }
}
